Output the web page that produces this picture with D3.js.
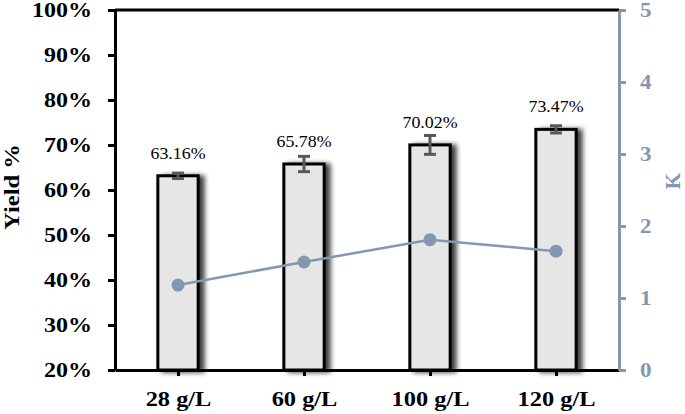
<!DOCTYPE html>
<html>
<head>
<meta charset="utf-8">
<script src="https://cdn.jsdelivr.net/npm/d3@7"></script>
<style>
  body { margin: 0; background: #fff; }
  svg { display: block; }
  svg text { font-family: "Liberation Serif", "Times New Roman", Times, serif; }
</style>
</head>
<body>
<div id="chart"></div>
<script>
// chart data
var categories = ["28 g/L", "60 g/L", "100 g/L", "120 g/L"];
var yieldValues = [0.6316, 0.6578, 0.7002, 0.7347];
var yieldErrors = [0.006, 0.017, 0.021, 0.008];
var yieldLabels = ["63.16%", "65.78%", "70.02%", "73.47%"];
var kValues = [1.18, 1.50, 1.81, 1.65];
var leftTicks = [0.2, 0.3, 0.4, 0.5, 0.6, 0.7, 0.8, 0.9, 1.0];
var rightTicks = [0, 1, 2, 3, 4, 5];

(function()
{
    var W = 685, H = 414;
    var left = 115, right = 619, top = 10, bottom = 370;
    var kColor = "#8497b0";

    var svg = d3.select("#chart").append("svg")
        .attr("width", W)
        .attr("height", H);

    // the reference type is a bit wider than the installed serif
    function stretch(sel, k) {
        sel.each(function() {
            var len = this.getComputedTextLength();
            d3.select(this).attr("textLength", len * k).attr("lengthAdjust", "spacingAndGlyphs");
        });
    }

    // bar shadow
    var defs = svg.append("defs");
    var f = defs.append("filter").attr("id", "shadow")
        .attr("x", "-20%").attr("y", "-10%").attr("width", "160%").attr("height", "130%");
    f.append("feDropShadow")
        .attr("dx", 5).attr("dy", 1).attr("stdDeviation", 2.5)
        .attr("flood-color", "#000").attr("flood-opacity", 0.75);

    //Scales
    var x = d3.scalePoint().domain(categories).range([left, right]).padding(0.5);
    var yL = d3.scaleLinear().domain([0.2, 1]).range([bottom, top]);
    var yR = d3.scaleLinear().domain([0, 5]).range([bottom, top]);
    var barW = x.step() * 0.32;

    var data = categories.map(function(c, i) {
        return { cat: c, v: yieldValues[i], e: yieldErrors[i], lab: yieldLabels[i], k: kValues[i] };
    });

    // bars
    svg.append("g").selectAll("rect")
        .data(data)
        .enter().append("rect")
        .attr("x", function(d) { return x(d.cat) - barW / 2; })
        .attr("y", function(d) { return yL(d.v); })
        .attr("width", barW)
        .attr("height", function(d) { return yL(0.2) - yL(d.v); })
        .attr("fill", "#e6e6e6")
        .attr("stroke", "#000")
        .attr("stroke-width", 3)
        .attr("filter", "url(#shadow)");

    // error bars
    var eg = svg.append("g").attr("stroke", "#595959").attr("stroke-width", 3);
    data.forEach(function(d) {
        var cx = x(d.cat), y1 = yL(d.v + d.e), y2 = yL(d.v - d.e);
        eg.append("line").attr("x1", cx).attr("x2", cx).attr("y1", y1).attr("y2", y2);
        eg.append("line").attr("x1", cx - 6).attr("x2", cx + 6).attr("y1", y1).attr("y2", y1);
        eg.append("line").attr("x1", cx - 6).attr("x2", cx + 6).attr("y1", y2).attr("y2", y2);
    });

    // data labels
    var dl = svg.append("g").selectAll("text")
        .data(data)
        .enter().append("text")
        .attr("x", function(d) { return x(d.cat); })
        .attr("y", function(d) { return yL(d.v) - 17; })
        .attr("text-anchor", "middle")
        .attr("font-size", 17)
        .attr("fill", "#000")
        .text(function(d) { return d.lab; });
    stretch(dl, 1.05);

    // top border
    svg.append("line")
        .attr("x1", left).attr("x2", right).attr("y1", top).attr("y2", top)
        .attr("stroke", "#000").attr("stroke-width", 3);

    // x axis
    var gx = svg.append("g")
        .attr("transform", "translate(0," + bottom + ")")
        .call(d3.axisBottom(x).tickSize(6).tickSizeOuter(0).tickPadding(16));
    gx.select(".domain").attr("stroke", "#000").attr("stroke-width", 3);
    gx.selectAll(".tick line").attr("stroke", "#000").attr("stroke-width", 3);
    gx.selectAll("text")
        .attr("font-size", 20).attr("font-weight", "bold").attr("fill", "#000");
    stretch(gx.selectAll("text"), 1.22);

    // left axis
    var gl = svg.append("g")
        .attr("transform", "translate(" + left + ",0)")
        .call(d3.axisLeft(yL).tickValues(leftTicks).tickFormat(d3.format(".0%"))
            .tickSize(7).tickSizeOuter(0).tickPadding(16));
    gl.select(".domain").attr("stroke", "#000").attr("stroke-width", 3);
    gl.selectAll(".tick line").attr("stroke", "#000").attr("stroke-width", 3);
    gl.selectAll("text")
        .attr("font-size", 20).attr("font-weight", "bold").attr("fill", "#000");
    stretch(gl.selectAll("text"), 1.2);

    // right axis
    var gr = svg.append("g")
        .attr("transform", "translate(" + right + ",0)")
        .call(d3.axisRight(yR).tickValues(rightTicks).tickFormat(d3.format("d"))
            .tickSize(7).tickSizeOuter(0).tickPadding(14));
    gr.select(".domain").attr("stroke", kColor).attr("stroke-width", 3);
    gr.selectAll(".tick line").attr("stroke", kColor).attr("stroke-width", 3);
    gr.selectAll("text")
        .attr("font-size", 20).attr("font-weight", "bold").attr("fill", kColor);
    stretch(gr.selectAll("text"), 1.15);

    // K line
    var line = d3.line()
        .x(function(d) { return x(d.cat); })
        .y(function(d) { return yR(d.k); });
    svg.append("path")
        .datum(data)
        .attr("d", line)
        .attr("fill", "none")
        .attr("stroke", kColor)
        .attr("stroke-width", 2.5);
    svg.append("g").selectAll("circle")
        .data(data)
        .enter().append("circle")
        .attr("cx", function(d) { return x(d.cat); })
        .attr("cy", function(d) { return yR(d.k); })
        .attr("r", 6.5)
        .attr("fill", kColor);

    // axis titles
    var t1 = svg.append("text")
        .attr("transform", "translate(19,187) rotate(-90)")
        .attr("text-anchor", "middle")
        .attr("font-size", 22).attr("font-weight", "bold")
        .attr("fill", "#000")
        .text("Yield %");
    stretch(t1, 1.12);

    svg.append("text")
        .attr("transform", "translate(680,181) rotate(-90)")
        .attr("text-anchor", "middle")
        .attr("font-size", 21).attr("font-weight", "bold")
        .attr("fill", kColor)
        .text("K");
})()
</script>
</body>
</html>
